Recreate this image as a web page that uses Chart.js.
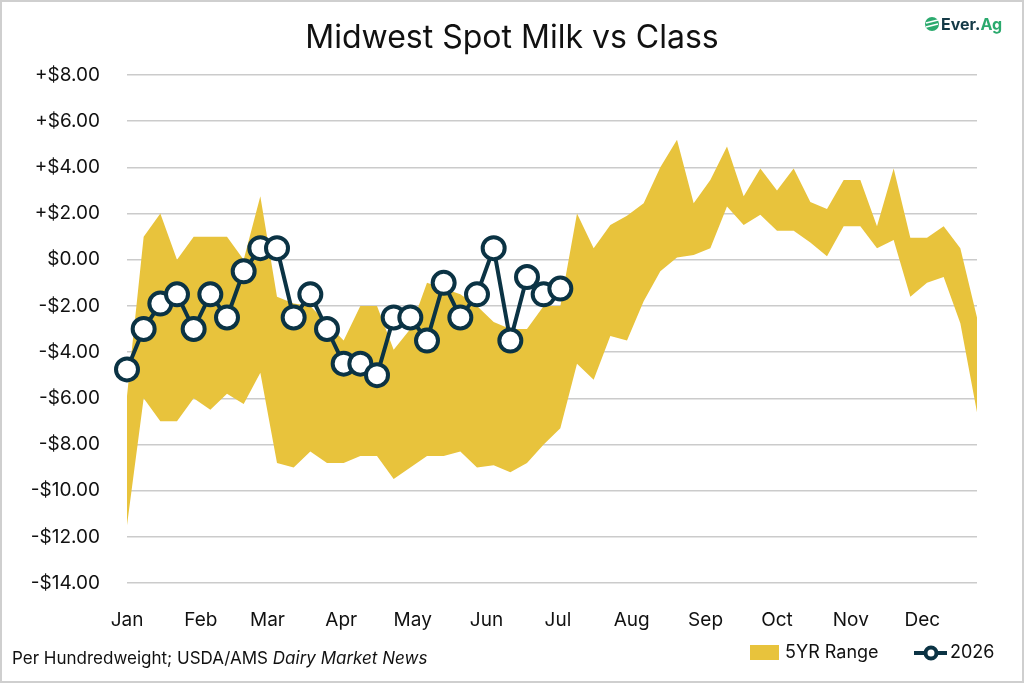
<!DOCTYPE html>
<html>
<head>
<meta charset="utf-8">
<script src="https://cdn.jsdelivr.net/npm/chart.js@4.4.1/dist/chart.umd.min.js"></script>
<style>
  html, body { margin: 0; padding: 0; background: #fff; }
  canvas { display: block; }
</style>
</head>
<body>
<canvas id="milk-chart" width="1024" height="683"></canvas>
<script>
// Month labels and the day of year each month starts on
const monthLabels = ['Jan', 'Feb', 'Mar', 'Apr', 'May', 'Jun', 'Jul', 'Aug', 'Sep', 'Oct', 'Nov', 'Dec'];
const monthStartDays = [0, 31, 59, 90, 120, 151, 181, 212, 243, 273, 304, 334];

// Y axis ticks ($/cwt)
const yTicks = [8, 6, 4, 2, 0, -2, -4, -6, -8, -10, -12, -14];

// 5 year range, one value per week (52 weeks)
const rangeHigh = [
    -5.9, 1.0, 2.0, 0.0, 1.0, 1.0, 1.0, 0.0, 2.75, -1.6,
    -1.9, -2.0, -2.75, -3.5, -2.0, -2.0, -3.9, -3.0, -1.0, -1.25,
    -1.5, -2.0, -2.7, -3.0, -3.0, -2.0, -2.0, 2.0, 0.5, 1.5,
    1.9, 2.45, 4.0, 5.2, 2.45, 3.45, 4.9, 2.75, 3.95, 3.0,
    3.95, 2.5, 2.2, 3.45, 3.45, 1.45, 3.95, 0.95, 0.95, 1.45,
    0.5, -2.5
];
const rangeLow = [
    -11.5, -6.0, -7.0, -7.0, -6.0, -6.5, -5.8, -6.25, -4.9, -8.8,
    -9.0, -8.3, -8.8, -8.8, -8.5, -8.5, -9.5, -9.0, -8.5, -8.5,
    -8.3, -9.0, -8.9, -9.2, -8.8, -8.0, -7.3, -4.5, -5.2, -3.3,
    -3.5, -1.8, -0.5, 0.1, 0.2, 0.5, 2.3, 1.5, 1.95, 1.25,
    1.25, 0.75, 0.15, 1.45, 1.45, 0.5, 0.85, -1.6, -1.0, -0.75,
    -2.75, -6.6
];

// 2026 weekly values so far
const values2026 = [
    -4.75, -3.0, -1.9, -1.5, -3.0, -1.5, -2.5, -0.5, 0.5, 0.5,
    -2.5, -1.5, -3.0, -4.5, -4.5, -5.0, -2.5, -2.5, -3.5, -1.0,
    -2.5, -1.5, 0.5, -3.5, -0.75, -1.5, -1.25
];

const FONT = 'Inter, "Open Sans", sans-serif';
const YELLOW = '#E8C33C';
const NAVY = '#0B3344';

// weeks sit 7 days apart on the x axis
const toPoints = arr => arr.map((v, i) => ({ x: i * 7, y: v }));

function formatDollar(v) {
    if (v > 0) return '+$' + v.toFixed(2);
    if (v < 0) return '-$' + Math.abs(v).toFixed(2);
    return '$0.00';
}

// Title, logo, footer, legend and frame
const decorations = {
    id: 'decorations',
    beforeDraw(chart) {
        const ctx = chart.ctx;
        ctx.save();
        ctx.fillStyle = '#fff';
        ctx.fillRect(0, 0, chart.width, chart.height);
        ctx.restore();
    },
    afterDraw(chart) {
        const ctx = chart.ctx;
        ctx.save();

        // title
        ctx.fillStyle = '#111';
        ctx.font = '32px ' + FONT;
        ctx.textAlign = 'center';
        ctx.textBaseline = 'middle';
        ctx.fillText('Midwest Spot Milk vs Class', 512, 38);

        // logo
        ctx.fillStyle = '#2BAA6E';
        ctx.beginPath();
        ctx.arc(932, 24, 7, 0, Math.PI * 2);
        ctx.fill();
        ctx.strokeStyle = '#fff';
        ctx.lineWidth = 1.6;
        ctx.beginPath();
        ctx.moveTo(926, 23); ctx.lineTo(938, 20);
        ctx.moveTo(926, 27); ctx.lineTo(938, 24);
        ctx.stroke();
        ctx.font = 'bold 16px ' + FONT;
        ctx.textAlign = 'left';
        ctx.fillStyle = '#153A47';
        ctx.fillText('Ever.', 941, 25);
        const w = ctx.measureText('Ever.').width;
        ctx.fillStyle = '#2BAA6E';
        ctx.fillText('Ag', 941 + w, 25);

        // footer source note
        ctx.fillStyle = '#111';
        ctx.font = '17px ' + FONT;
        const part1 = 'Per Hundredweight; USDA/AMS ';
        ctx.fillText(part1, 12, 659);
        const w1 = ctx.measureText(part1).width;
        ctx.font = 'italic 17px ' + FONT;
        ctx.fillText('Dairy Market News', 12 + w1, 659);

        // legend
        ctx.fillStyle = YELLOW;
        ctx.fillRect(750, 645, 29, 15);
        ctx.fillStyle = '#111';
        ctx.font = '18px ' + FONT;
        ctx.fillText('5YR Range', 785, 653);
        ctx.strokeStyle = NAVY;
        ctx.lineWidth = 4;
        ctx.beginPath();
        ctx.moveTo(914, 653); ctx.lineTo(947, 653);
        ctx.stroke();
        ctx.fillStyle = '#fff';
        ctx.beginPath();
        ctx.arc(931, 653, 5.5, 0, Math.PI * 2);
        ctx.fill();
        ctx.stroke();
        ctx.fillStyle = '#111';
        ctx.fillText('2026', 950, 653);

        // frame
        ctx.strokeStyle = '#cfcfcf';
        ctx.lineWidth = 2;
        ctx.strokeRect(1, 1, chart.width - 2, chart.height - 2);
        ctx.restore();
    }
};

const config = {
    type: 'line',
    data: {
        datasets: [{
            label: '2026',
            data: toPoints(values2026),
            borderColor: NAVY,
            borderWidth: 4,
            pointRadius: 11,
            pointBorderWidth: 4,
            pointBackgroundColor: '#fff',
            pointBorderColor: NAVY,
            fill: false,
            clip: false,
            order: 0
        }, {
            label: '5YR Range',
            data: toPoints(rangeHigh),
            borderWidth: 0,
            borderColor: YELLOW,
            backgroundColor: YELLOW,
            pointRadius: 0,
            fill: '+1',
            order: 1
        }, {
            label: 'low',
            data: toPoints(rangeLow),
            borderWidth: 0,
            borderColor: YELLOW,
            pointRadius: 0,
            fill: false,
            order: 2
        }]
    },
    options: {
        responsive: false,
        animation: false,
        devicePixelRatio: 1,
        layout: { padding: { top: 75, right: 47, bottom: 40, left: 0 } },
        plugins: {
            legend: { display: false },
            tooltip: { enabled: false },
            title: { display: false }
        },
        scales: {
            x: {
                type: 'linear',
                min: 0,
                max: 357,
                grid: { display: false, drawTicks: false },
                border: { display: false },
                afterBuildTicks: scale => {
                    scale.ticks = monthStartDays.map(d => ({ value: d }));
                },
                afterFit: scale => { scale.height = 60; },
                ticks: {
                    autoSkip: false,
                    maxRotation: 0,
                    padding: 26,
                    color: '#111',
                    font: { family: FONT, size: 19 },
                    callback: value => monthLabels[monthStartDays.indexOf(value)]
                }
            },
            y: {
                min: -14,
                max: 8,
                afterBuildTicks: scale => {
                    scale.ticks = yTicks.map(v => ({ value: v }));
                },
                afterFit: scale => { scale.width = 127; },
                grid: { color: '#cbcbcb', lineWidth: 1.5, drawTicks: false },
                border: { display: false },
                ticks: {
                    padding: 27,
                    color: '#111',
                    font: { family: FONT, size: 19 },
                    callback: value => formatDollar(value)
                }
            }
        }
    },
    plugins: [decorations]
};

const milkChart = new Chart(document.getElementById('milk-chart'), config);
</script>
</body>
</html>
